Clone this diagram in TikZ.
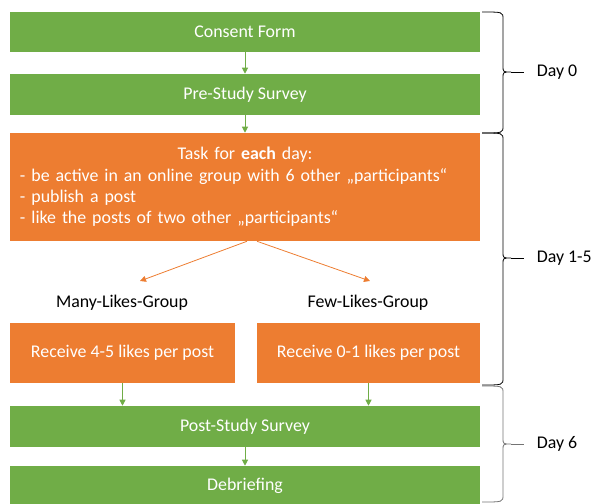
\documentclass[tikz,border=0pt]{standalone}
\usepackage{fontspec}
\setmainfont{Carlito}
\usetikzlibrary{calc,arrows.meta,positioning}

\definecolor{officegreen}{HTML}{70AD47}
\definecolor{officeorange}{HTML}{ED7D31}

\tikzset{
	stagebox/.style={draw=none, text=white, inner sep=0pt, minimum width=352.5pt},
	greenbox/.style={stagebox, fill=officegreen, minimum height=30pt},
	orangebox/.style={stagebox, fill=officeorange},
	greenarrow/.style={draw=officegreen, line width=0.75pt, -{Triangle[length=4.5pt,width=4.5pt]}},
	orangearrow/.style={draw=officeorange, line width=0.6pt, -{Triangle[length=4.5pt,width=4.5pt]}},
	daybrace/.style={draw=black, line width=0.6pt}
}

\begin{document}
\begin{tikzpicture}[x=0.75pt, y=-0.75pt, every node/.style={font=\fontsize{13.4}{15}\selectfont}]
	\clip (0,0) rectangle (594,504);

	% --- Day 0 ---
	\node[greenbox] (consent) at (245,32) {Consent Form};
	\node[greenbox, minimum height=30.75pt] (prestudy) at (245,94.5) {Pre-Study Survey};

	% --- Day 1-5 ---
	\node[orangebox, minimum height=81pt, text width=337.5pt, align=left,
		font=\fontsize{13.4}{16}\selectfont] (task) at (245,187)
		{{\centering Task for \textbf{each} day:\par}
		- be active in an online group with 6 other „participants“\\
		- publish a post\\
		- like the posts of two other „participants“};

	\node (manylabel) at (122,303) {Many-Likes-Group};
	\node (fewlabel) at (368,303) {Few-Likes-Group};

	\node[orangebox, minimum width=168.75pt, minimum height=45pt] (many) at (122.5,353) {Receive 4-5 likes per post};
	\node[orangebox, minimum width=167.25pt, minimum height=45pt] (few) at (368.5,353) {Receive 0-1 likes per post};

	% --- Day 6 ---
	\node[greenbox, minimum height=30.75pt] (post) at (245,426.5) {Post-Study Survey};
	\node[greenbox] (debrief) at (245,486) {Debriefing};

	% --- Arrows ---
	\coordinate (manytip) at (140,281);
	\coordinate (fewtip) at (370,281);
	\draw[greenarrow] (consent) -- (prestudy);
	\draw[greenarrow] (prestudy) -- (task);
	\draw[orangearrow] ([xshift=1.5pt]task.south) -- (manytip);
	\draw[orangearrow] ([xshift=9pt]task.south) -- (fewtip);
	\draw[greenarrow] (many) -- (many |- post.north);
	\draw[greenarrow] (few) -- (few |- post.north);
	\draw[greenarrow] (post) -- (debrief);

	% --- Braces with the days ---
	% Format: top / bottom / tip / colour / label
	\foreach \ya/\yb/\ym/\col/\lbl [count=\i] in {12/133/72/black/Day 0, 133/385/258/black/Day 1-5, 386/502/444/black!55/Day 6} {
			\draw[daybrace, draw=\col] (482,\ya) .. controls (503,\ya) .. (503,\ya+7) -- (503,\ym-6)
			.. controls (503,\ym) .. (511,\ym) .. controls (503,\ym) .. (503,\ym+6)
			-- (503,\yb-7) .. controls (503,\yb) .. (482,\yb);
			\draw[daybrace, draw=\col] (511,\ym) -- (524,\ym) node[right=6pt, black] (day\i) {\lbl};
		}
\end{tikzpicture}
\end{document}
